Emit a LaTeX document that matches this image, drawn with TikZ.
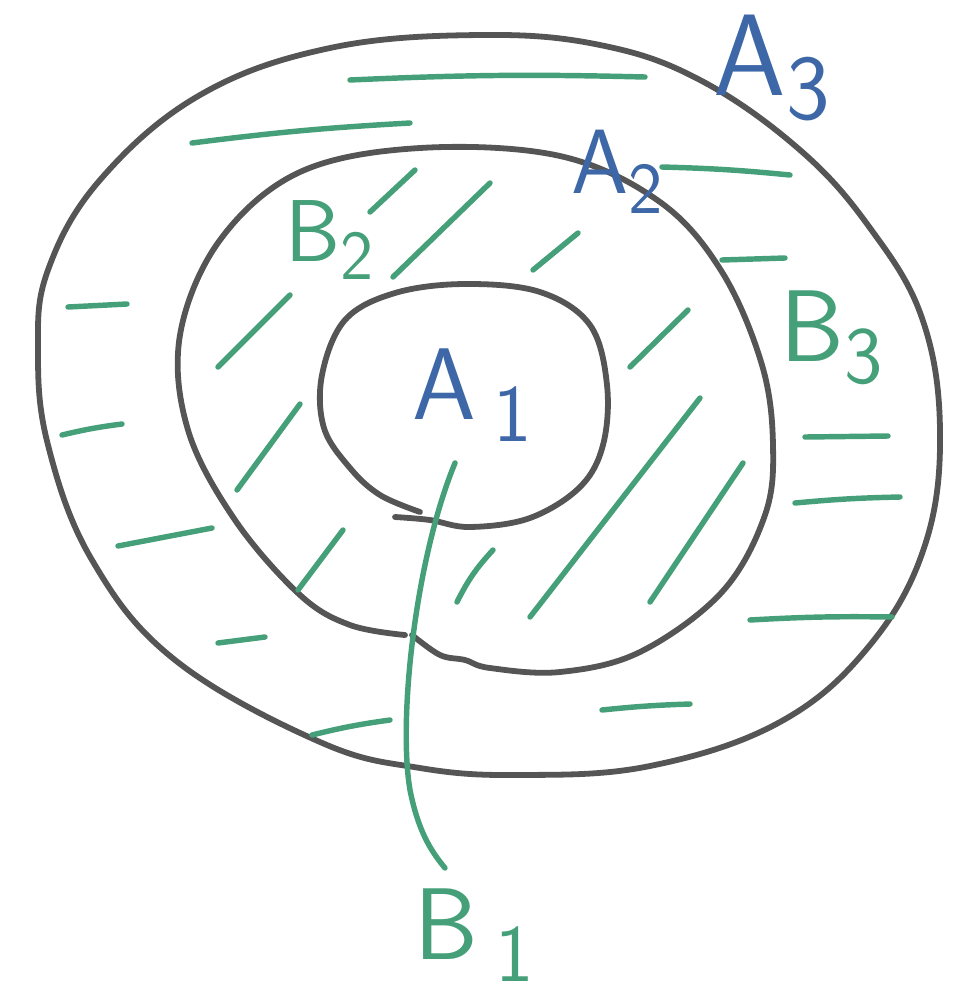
\documentclass[tikz,border=0pt]{standalone}
\usepackage{amsmath}
\usepackage{tikz}

\definecolor{pen}{HTML}{555555}
\definecolor{penblue}{HTML}{3D67A6}
\definecolor{pengreen}{HTML}{45A07A}

\newcommand{\lowsub}[1]{\raisebox{-0.5ex}{\scalebox{0.8}{#1}}}

\tikzset{
  ring/.style={pen, line width=3.3pt, line cap=round},
  hatch/.style={pengreen, line width=3.1pt, line cap=round},
  lbl/.style={font=\sffamily\fontsize{58}{58}\selectfont, inner sep=0pt},
}

\begin{document}
\begin{tikzpicture}[x=0.02cm, y=-0.02cm]
    \useasboundingbox (0,0) rectangle (956,1002);

    % the three sets
    \draw[ring] plot[smooth cycle, tension=0.65] coordinates {
      (480,35) (330,48) (200,95) (100,180) (48,270) (38,350) (48,445)
      (92,560) (175,660) (320,742) (420,768) (520,775) (650,766)
      (780,722) (870,645) (925,545) (940,430) (922,318) (870,228)
      (800,150) (700,80) (600,45)};

    \draw[ring] plot[smooth, tension=0.6] coordinates {
      (405,635) (350,625) (300,595) (235,520) (188,430) (180,335)
      (220,240) (300,172) (420,148) (560,156) (660,202) (722,272)
      (762,365) (773,445) (765,515) (722,592) (640,652) (560,672)
      (490,668) (465,660) (440,655) (412,635)};

    \draw[ring] plot[smooth, tension=0.6] coordinates {
      (420,512) (380,495) (350,468) (324,428) (322,375) (345,320)
      (395,293) (465,284) (540,292) (590,325) (607,385) (603,445)
      (580,487) (530,518) (470,527) (430,520) (395,517)};

    % B3 hatching
    \draw[hatch] (350,80) to[bend left=2] (645,77);
    \draw[hatch] (192,143) to[bend left=2] (410,123);
    \draw[hatch] (662,167) to[bend left=2] (790,175);
    \draw[hatch] (722,260) -- (785,258);
    \draw[hatch] (68,307) -- (127,304);
    \draw[hatch] (62,435) to[bend left=3] (122,424);
    \draw[hatch] (805,437) -- (888,436);
    \draw[hatch] (795,503) to[bend left=2] (900,497);
    \draw[hatch] (118,546) -- (212,528);
    \draw[hatch] (750,620) to[bend left=2] (892,617);
    \draw[hatch] (218,643) -- (265,637);
    \draw[hatch] (602,710) to[bend left=2] (690,704);
    \draw[hatch] (312,735) to[bend left=3] (390,720);

    % B2 hatching
    \draw[hatch] (370,212) -- (415,170);
    \draw[hatch] (393,277) -- (490,183);
    \draw[hatch] (533,270) -- (578,233);
    \draw[hatch] (218,367) -- (290,295);
    \draw[hatch] (630,367) -- (688,310);
    \draw[hatch] (237,490) -- (300,404);
    \draw[hatch] (298,590) -- (343,530);
    \draw[hatch] (457,602) to[bend left=8] (493,550);
    \draw[hatch] (530,617) -- (700,398);
    \draw[hatch] (650,602) -- (743,463);

    % labels
    \node[lbl, penblue] (A1) at (472,395) {A\,\lowsub{1}};
    \node[lbl, penblue, font=\sffamily\fontsize{52}{52}\selectfont] (A2) at (617,172) {A\lowsub{2}};
    \node[lbl, penblue, font=\sffamily\fontsize{66}{66}\selectfont] (A3) at (772,68) {A\lowsub{3}};
    \node[lbl, pengreen, font=\sffamily\fontsize{50}{50}\selectfont] (B2) at (330,240) {B\lowsub{2}};
    \node[lbl, pengreen] (B3) at (832,338) {B\lowsub{3}};
    \node[lbl, pengreen] (B1) at (474,935) {B\,\lowsub{1}};

    \coordinate (t1) at (455,463);
    \coordinate (t2) at (445,868);
    \draw[hatch] (t1) .. controls (415,560) and (398,720) .. (410,790)
                      .. controls (418,830) and (430,850) .. (t2);
\end{tikzpicture}
\end{document}
